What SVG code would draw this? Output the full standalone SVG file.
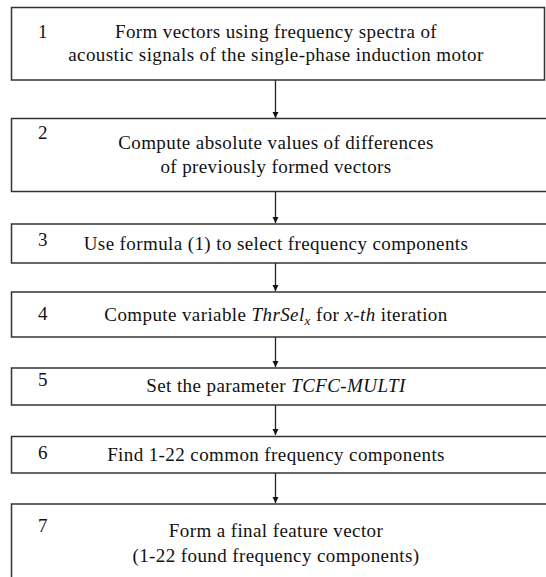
<svg xmlns="http://www.w3.org/2000/svg" width="546" height="577" viewBox="0 0 546 577">
<style>
.box{fill:#fff;stroke:#333;stroke-width:1.5}
.t{font-family:"Liberation Serif","Times New Roman",serif;font-size:19px;letter-spacing:0.4px;fill:#111;text-anchor:middle}
.n{font-family:"Liberation Serif","Times New Roman",serif;font-size:19px;fill:#111}
.i{font-style:italic}
.c{stroke:#222;stroke-width:1.3;fill:none;marker-end:url(#ah)}
</style>
<defs>
<marker id="ah" markerWidth="7" markerHeight="7" refX="6" refY="3" orient="auto" markerUnits="userSpaceOnUse">
<path d="M0,0 L6,3 L0,6 z" fill="#111"/>
</marker>
</defs>
<rect width="546" height="577" fill="#fff"/>
<g id="connectors">
<line class="c" x1="275.5" y1="80" x2="275.5" y2="118"/>
<line class="c" x1="275.5" y1="192" x2="275.5" y2="223"/>
<line class="c" x1="275.5" y1="263" x2="275.5" y2="291"/>
<line class="c" x1="275.5" y1="337" x2="275.5" y2="367"/>
<line class="c" x1="275.5" y1="405" x2="275.5" y2="435"/>
<line class="c" x1="275.5" y1="473" x2="275.5" y2="503"/>
</g>
<g id="node1">
<rect class="box" x="11.5" y="7.5" width="533" height="72.5"/>
<text class="n" x="38" y="38">1</text>
<text class="t" x="276" y="38">Form vectors using frequency spectra of</text>
<text class="t" x="276" y="61">acoustic signals of the single-phase induction motor</text>
</g>
<g id="node2">
<rect class="box" x="11.5" y="118.5" width="537" height="73"/>
<text class="n" x="38" y="139">2</text>
<text class="t" x="276" y="149">Compute absolute values of differences</text>
<text class="t" x="276" y="173">of previously formed vectors</text>
</g>
<g id="node3">
<rect class="box" x="11.5" y="224" width="537" height="39"/>
<text class="n" x="38" y="246">3</text>
<text class="t" x="276" y="250">Use formula (1) to select frequency components</text>
</g>
<g id="node4">
<rect class="box" x="11.5" y="292" width="537" height="45"/>
<text class="n" x="38" y="320">4</text>
<text class="t" x="276" y="321">Compute variable <tspan class="i">ThrSel</tspan><tspan class="i" font-size="13" dy="4">x</tspan><tspan dy="-4"> for </tspan><tspan class="i">x-th</tspan> iteration</text>
</g>
<g id="node5">
<rect class="box" x="11.5" y="368" width="537" height="37"/>
<text class="n" x="38" y="386">5</text>
<text class="t" x="276" y="392">Set the parameter <tspan class="i">TCFC-MULTI</tspan></text>
</g>
<g id="node6">
<rect class="box" x="11.5" y="436.5" width="537" height="36.5"/>
<text class="n" x="38" y="459">6</text>
<text class="t" x="276" y="461">Find 1-22 common frequency components</text>
</g>
<g id="node7">
<rect class="box" x="11.5" y="504" width="537" height="80"/>
<text class="n" x="38" y="532">7</text>
<text class="t" x="276" y="537">Form a final feature vector</text>
<text class="t" x="276" y="562">(1-22 found frequency components)</text>
</g>
</svg>
